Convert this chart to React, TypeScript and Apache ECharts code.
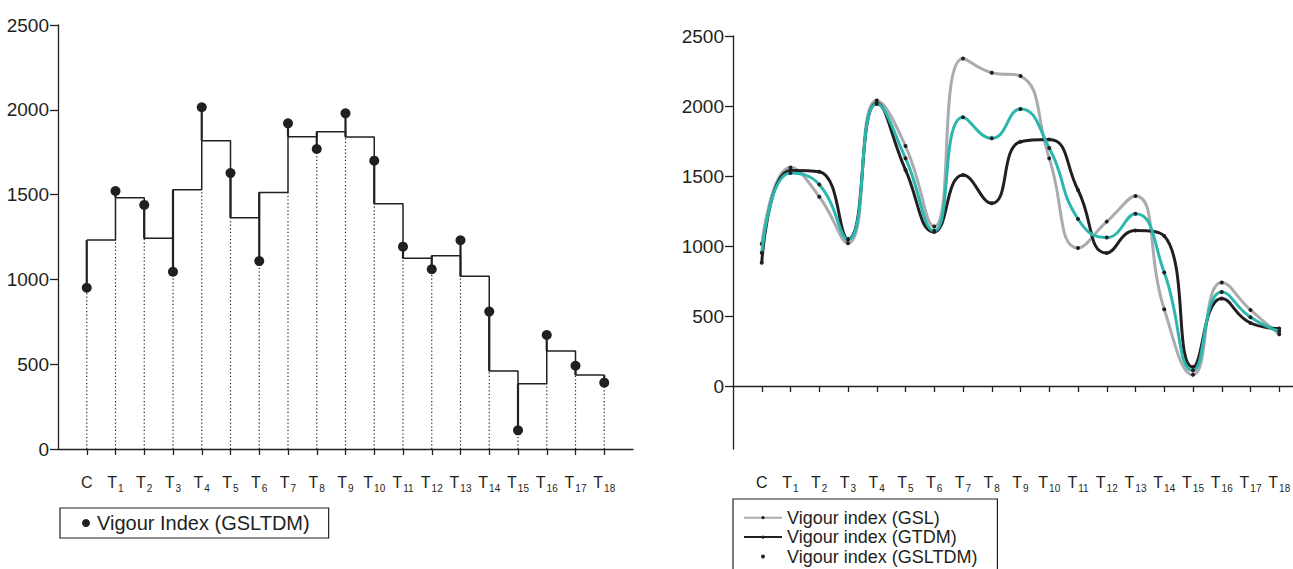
import React, { useEffect, useRef } from 'react';
import * as echarts from 'echarts';

// ---------- data ----------
const categories = ['C', 'T1', 'T2', 'T3', 'T4', 'T5', 'T6', 'T7', 'T8', 'T9', 'T10', 'T11', 'T12', 'T13', 'T14', 'T15', 'T16', 'T17', 'T18'];

// Vigour index (GSLTDM) – dots (left chart) and teal curve (right chart)
const gsltdmValues = [951, 1521, 1439, 1045, 2015, 1627, 1108, 1920, 1769, 1979, 1700, 1193, 1060, 1231, 810, 110, 672, 491, 391];

// level of the step line between consecutive treatments (left chart)
const stepValues = [1232, 1482, 1242, 1529, 1818, 1364, 1513, 1841, 1871, 1840, 1446, 1124, 1140, 1018, 460, 385, 578, 436];

// Vigour index (GSL) – grey curve
const gslValues = [1014, 1560, 1352, 1020, 2040, 1714, 1140, 2340, 2238, 2214, 1626, 986, 1174, 1357, 548, 80, 740, 543, 370];

// Vigour index (GTDM) – black curve
const gtdmValues = [881, 1540, 1531, 1050, 2020, 1543, 1100, 1507, 1305, 1745, 1760, 1400, 950, 1110, 1071, 135, 625, 450, 410];

const leftYTicks = [0, 500, 1000, 1500, 2000, 2500];
const rightYTicks = [0, 500, 1000, 1500, 2000, 2500];

// ---------- helpers ----------
const FONT = "'Liberation Sans', Arial, Helvetica, sans-serif";
const INK = '#231f20';
const GREY = '#a9abae';
const TEAL = '#2bb7ae';

const axisCats = ['pad-start', ...categories, 'pad-end'];

function xLabel(v: string): string {
  if (v === 'C') return '{t|C}';
  if (v.startsWith('T')) return `{t|T}{s|${v.slice(1)}}`;
  return '';
}

const pairs = (arr: number[]) => arr.map((v, i) => [i + 1, v]);

const stepData = [...pairs(stepValues), [categories.length, stepValues[stepValues.length - 1]]];

const stemRows = categories.map((_, i) => {
  const stepHere = stepValues[Math.min(i, stepValues.length - 1)];
  const lows = [gsltdmValues[i], stepHere];
  if (i > 0) lows.push(stepValues[i - 1]);
  return [i + 1, gsltdmValues[i], stepHere, Math.min(...lows)];
});

function makeXAxis(gridIndex: number) {
  return {
    type: 'category',
    gridIndex,
    data: axisCats,
    boundaryGap: false,
    axisLine: { show: true, lineStyle: { color: INK, width: 1.3 } },
    axisTick: {
      show: true,
      length: 6,
      interval: (i: number) => i > 0 && i < axisCats.length - 1,
      lineStyle: { color: INK, width: 1.3 },
    },
    axisLabel: {
      interval: 0,
      margin: 22,
      fontFamily: FONT,
      color: INK,
      formatter: xLabel,
      rich: {
        t: { fontSize: 16, fontFamily: FONT, color: INK, lineHeight: 22 },
        s: { fontSize: 10, fontFamily: FONT, color: INK, lineHeight: 10, verticalAlign: 'bottom', padding: [0, 0, 0, 1] },
      },
    },
    splitLine: { show: false },
  };
}

function makeYAxis(gridIndex: number, min: number, ticks: number[]) {
  const base: any = {
    type: 'value',
    gridIndex,
    min,
    max: 2500,
    axisLine: { show: true, lineStyle: { color: INK, width: 1.3 } },
    axisTick: { show: true, length: 8, lineStyle: { color: INK, width: 1.3 } },
    axisLabel: { fontSize: 19, fontFamily: FONT, color: INK, margin: 9, formatter: (v: number) => String(v) },
    splitLine: { show: false },
  };
  if (min === 0) {
    base.interval = 500;
  } else {
    base.axisTick.customValues = ticks;
    base.axisLabel.customValues = ticks;
  }
  return base;
}

const option: any = {
  animation: false,
  backgroundColor: '#ffffff',
  textStyle: { fontFamily: FONT, color: INK },
  grid: [
    { left: 58, top: 25, width: 575, height: 424, containLabel: false, outerBoundsMode: 'none' },
    { left: 733, top: 36, width: 575, height: 413, containLabel: false, outerBoundsMode: 'none' },
  ],
  xAxis: [makeXAxis(0), makeXAxis(1)],
  yAxis: [makeYAxis(0, 0, leftYTicks), makeYAxis(1, -450, rightYTicks)],
  legend: [
    {
      data: [{ name: 'Vigour Index (GSLTDM)', icon: 'circle' }],
      orient: 'horizontal',
      left: 60,
      top: 508,
      itemWidth: 12,
      itemHeight: 8,
      padding: [5, 19, 5, 22],
      borderColor: INK,
      borderWidth: 1.2,
      selectedMode: false,
      textStyle: { fontSize: 20, fontFamily: FONT, color: INK, lineHeight: 20 },
    },
    {
      data: [
        { name: 'Vigour index (GSL)' },
        { name: 'Vigour index (GTDM)' },
        { name: 'Vigour index (GSLTDM)', icon: 'circle' },
      ],
      orient: 'vertical',
      left: 733,
      top: 499,
      height: 62,
      itemWidth: 38,
      itemHeight: 4,
      itemGap: 0,
      padding: [9, 20, 20, 10],
      borderColor: INK,
      borderWidth: 1.2,
      selectedMode: false,
      textStyle: { fontSize: 18, fontFamily: FONT, color: INK, lineHeight: 19.4 },
    },
  ],
  series: [
    // ----- left chart -----
    {
      type: 'custom',
      name: 'stems',
      xAxisIndex: 0,
      yAxisIndex: 0,
      data: stemRows,
      encode: { x: 0, y: [1, 2, 3] },
      silent: true,
      renderItem: (_params: any, api: any) => {
        const x = api.value(0);
        const pDot = api.coord([x, api.value(1)]);
        const pStep = api.coord([x, api.value(2)]);
        const pLow = api.coord([x, api.value(3)]);
        const p0 = api.coord([x, 0]);
        return {
          type: 'group',
          children: [
            {
              type: 'line',
              shape: { x1: p0[0], y1: p0[1], x2: pLow[0], y2: pLow[1] },
              style: { stroke: INK, lineWidth: 1.2, lineDash: [1.2, 2.4] },
            },
            {
              type: 'line',
              shape: { x1: pDot[0], y1: pDot[1], x2: pStep[0], y2: pStep[1] },
              style: { stroke: INK, lineWidth: 2.2 },
            },
          ],
        };
      },
      z: 2,
    },
    {
      type: 'line',
      name: 'step',
      xAxisIndex: 0,
      yAxisIndex: 0,
      step: 'end',
      data: stepData,
      showSymbol: false,
      symbol: 'none',
      lineStyle: { color: INK, width: 1.5 },
      z: 3,
    },
    {
      type: 'scatter',
      name: 'Vigour Index (GSLTDM)',
      xAxisIndex: 0,
      yAxisIndex: 0,
      data: pairs(gsltdmValues),
      symbol: 'circle',
      symbolSize: 10,
      itemStyle: { color: INK, opacity: 1 },
      z: 4,
    },
    // ----- right chart -----
    {
      type: 'line',
      name: 'Vigour index (GSL)',
      xAxisIndex: 1,
      yAxisIndex: 1,
      data: pairs(gslValues),
      smooth: 0.5,
      symbol: 'circle',
      symbolSize: 4,
      itemStyle: { color: INK },
      lineStyle: { color: GREY, width: 3 },
      z: 2,
    },
    {
      type: 'line',
      name: 'Vigour index (GTDM)',
      xAxisIndex: 1,
      yAxisIndex: 1,
      data: pairs(gtdmValues),
      smooth: 0.5,
      symbol: 'circle',
      symbolSize: 4,
      itemStyle: { color: INK },
      lineStyle: { color: INK, width: 3 },
      z: 3,
    },
    {
      type: 'line',
      name: 'Vigour index (GSLTDM)',
      xAxisIndex: 1,
      yAxisIndex: 1,
      data: pairs(gsltdmValues),
      smooth: 0.5,
      symbol: 'circle',
      symbolSize: 4,
      itemStyle: { color: INK },
      lineStyle: { color: TEAL, width: 3 },
      z: 4,
    },
  ],
};

export default function App() {
  const ref = useRef<HTMLDivElement>(null);
  useEffect(() => {
    if (!ref.current) return;
    const chart = echarts.init(ref.current, null, { renderer: 'svg' });
    chart.setOption(option);
    return () => chart.dispose();
  }, []);
  return (
    <div
      ref={ref}
      style={{ position: 'absolute', left: 0, top: 0, width: 1293, height: 569, background: '#fff' }}
    />
  );
}
